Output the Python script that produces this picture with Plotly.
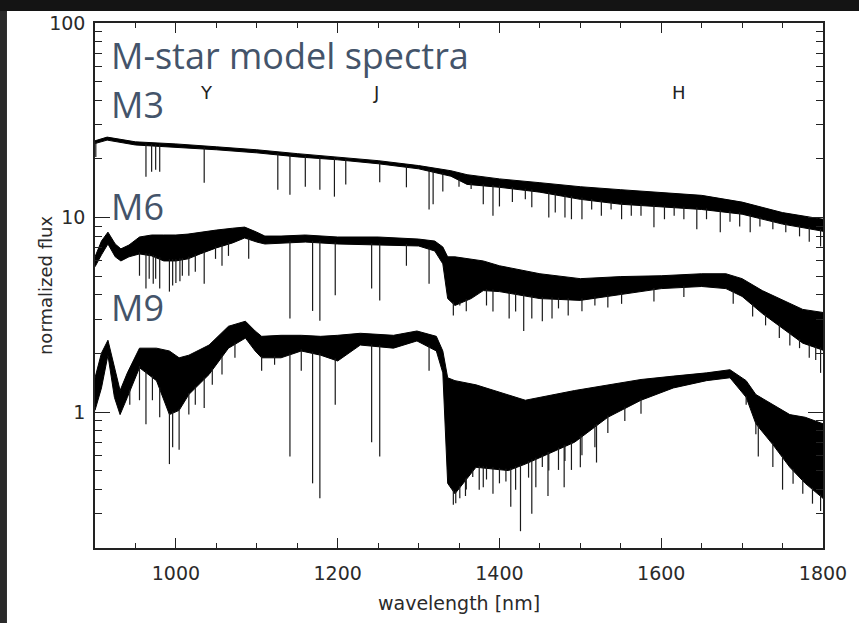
import numpy as np
import plotly.graph_objects as go

# ---------------- data ----------------
# M3 spectrum: wavelength (nm), upper / lower edge of the dense trace (normalized flux)
m3_wl = [900, 915, 950, 1000, 1050, 1100, 1150, 1200, 1250, 1300, 1340, 1360, 1400,
         1450, 1500, 1550, 1600, 1650, 1700, 1750, 1800]
m3_upper = [24.8, 25.9, 24.5, 23.9, 23.1, 22.3, 21.3, 20.5, 19.6, 18.5, 17.4, 16.6, 15.8,
            15.1, 14.4, 13.9, 13.5, 13.0, 12.0, 10.6, 9.8]
m3_lower = [24.0, 25.0, 23.6, 23.0, 22.3, 21.5, 20.5, 19.8, 18.9, 17.8, 16.3, 14.8, 14.3,
            13.5, 12.4, 11.7, 11.3, 11.0, 10.4, 9.25, 8.5]
m3_line_wl = [901, 963, 970, 975, 980, 1035, 1126, 1141, 1160, 1178, 1196, 1210, 1252,
              1285, 1313, 1318, 1330, 1350, 1365, 1380, 1392, 1400, 1416, 1432, 1440,
              1461, 1469, 1481, 1489, 1502, 1514, 1526, 1538, 1551, 1563, 1575, 1591,
              1604, 1616, 1628, 1644, 1656, 1673, 1685, 1697, 1710, 1722, 1738, 1754,
              1771, 1783, 1797]
m3_line_min = [20.5, 16.2, 17.2, 17.6, 17.2, 15.1, 13.9, 13.1, 14.4, 13.9, 12.8, 14.8, 15.2,
               14.3, 11.0, 11.7, 13.6, 14.4, 14.0, 11.7, 10.2, 11.4, 12.0, 12.4, 11.3,
               10.0, 10.6, 10.0, 9.8, 9.8, 11.0, 10.2, 11.0, 9.8, 10.2, 10.2, 8.9,
               9.8, 10.2, 9.8, 8.7, 9.8, 8.4, 9.5, 9.0, 8.4, 9.0, 8.7, 8.4,
               8.0, 7.5, 7.1]

# M6 spectrum
m6_wl = [900, 908, 916, 925, 932, 942, 955, 970, 985, 1000, 1015, 1030, 1050, 1070, 1085,
         1100, 1110, 1130, 1160, 1200, 1250, 1300, 1320, 1330, 1336, 1345, 1365, 1380,
         1400, 1450, 1500, 1550, 1600, 1650, 1680, 1700, 1725, 1750, 1775, 1800]
m6_upper = [6.28, 7.57, 8.41, 7.31, 6.90, 7.22, 7.94, 8.13, 8.13, 8.13, 8.22, 8.41, 8.62,
            8.81, 8.93, 8.41, 8.03, 8.03, 8.13, 7.94, 7.94, 7.75, 7.57, 7.06, 6.28, 6.28,
            6.13, 5.98, 5.65, 5.14, 4.85, 4.97, 5.02, 5.14, 5.14, 4.85, 4.21, 3.75, 3.37, 3.25]
m6_lower = [5.58, 6.43, 7.31, 6.28, 5.98, 6.28, 6.50, 6.35, 5.98, 5.98, 6.13, 6.50, 6.98,
            7.40, 7.85, 7.48, 7.31, 7.40, 7.48, 7.31, 7.22, 7.14, 6.73, 5.78, 3.83, 3.53,
            3.83, 4.21, 4.16, 3.83, 3.75, 4.02, 4.31, 4.42, 4.31, 3.93, 3.21, 2.70, 2.26, 2.08]
m6_line_wl = [955, 963, 967, 972, 975, 980, 992, 996, 1000, 1005, 1008, 1016, 1024, 1035,
              1049, 1057, 1065, 1090, 1141, 1169, 1178, 1197, 1242, 1252, 1285, 1313,
              1343, 1351, 1359, 1384, 1392, 1412, 1420, 1430, 1440, 1453, 1465, 1473,
              1485, 1502, 1518, 1534, 1551, 1591, 1628, 1689, 1713, 1729, 1746, 1759,
              1771, 1783, 1791, 1797]
m6_line_min = [5.02, 4.31, 4.85, 4.57, 4.85, 4.31, 4.16, 4.47, 4.6, 4.7, 5.02, 5.02, 5.26,
               4.57, 6.13, 5.65, 6.35, 6.13, 3.03, 3.31, 2.95, 3.98, 4.31, 3.75, 5.65, 4.57,
               3.14, 3.53, 3.3, 3.53, 3.29, 3.03, 3.29, 2.61, 3.03, 2.93, 3.03, 3.41,
               3.14, 3.3, 3.53, 3.45, 3.6, 3.7, 3.9, 3.6, 3.1, 2.79, 2.40, 2.2,
               2.13, 1.9, 1.85, 1.59]

# M9 spectrum
m9_wl = [900, 908, 916, 924, 931, 940, 955, 976, 992, 1004, 1016, 1041, 1065, 1086, 1098,
         1106, 1130, 1155, 1179, 1200, 1228, 1269, 1298, 1322, 1330, 1336, 1345, 1371,
         1411, 1432, 1493, 1534, 1575, 1615, 1656, 1685, 1705, 1717, 1738, 1759, 1778, 1800]
m9_upper = [1.50, 2.01, 2.34, 1.69, 1.29, 1.59, 2.13, 2.13, 2.06, 1.90, 1.96, 2.21, 2.76,
            2.93, 2.61, 2.45, 2.48, 2.48, 2.45, 2.48, 2.54, 2.48, 2.61, 2.45, 2.06, 1.50,
            1.45, 1.38, 1.23, 1.15, 1.29, 1.38, 1.47, 1.53, 1.59, 1.65, 1.45, 1.23, 1.09,
            0.97, 0.94, 0.87]
m9_lower = [1.02, 1.33, 1.96, 1.19, 0.97, 1.19, 1.69, 1.45, 0.97, 1.02, 1.23, 1.56, 2.13,
            2.40, 2.06, 1.90, 1.90, 2.06, 1.96, 1.83, 2.21, 2.13, 2.32, 2.06, 1.59, 0.43,
            0.38, 0.52, 0.50, 0.54, 0.70, 0.94, 1.15, 1.33, 1.45, 1.50, 1.19, 0.87, 0.68,
            0.52, 0.43, 0.36]
m9_line_wl = [943, 955, 963, 971, 980, 992, 996, 1004, 1016, 1024, 1035, 1045, 1057, 1073,
              1106, 1122, 1141, 1155, 1169, 1178, 1197, 1242, 1252, 1313, 1343, 1346,
              1351, 1358, 1359, 1367, 1375, 1380, 1384, 1392, 1400, 1408, 1414, 1420,
              1426, 1436, 1440, 1445, 1453, 1460, 1461, 1473, 1480, 1481, 1489, 1500,
              1502, 1518, 1520, 1534, 1555, 1575, 1705, 1717, 1720, 1738, 1750, 1763,
              1775, 1787, 1797]
m9_line_min = [1.09, 1.15, 0.865, 1.15, 0.94, 0.54, 0.66, 0.64, 0.97, 1.09, 1.05, 1.38,
               1.56, 1.90, 1.63, 1.75, 0.59, 1.63, 0.43, 0.36, 1.09, 0.70, 0.59, 1.63,
               0.334, 0.34, 0.36, 0.37, 0.40, 0.464, 0.399, 0.41, 0.45, 0.38, 0.43, 0.44,
               0.326, 0.399, 0.244, 0.46, 0.30, 0.41, 0.522, 0.37, 0.5, 0.504, 0.41,
               0.56, 0.504, 0.52, 0.6, 0.66, 0.55, 0.78, 0.9, 0.98, 1.09, 0.769, 0.59,
               0.522, 0.399, 0.428, 0.38, 0.338, 0.31]

star_names = ["M3", "M6", "M9"]
band_names = ["Y", "J", "H"]
band_centers = [1038, 1248, 1622]
band_label_flux = 44

x_ticks = [1000, 1200, 1400, 1600, 1800]
x_minor = [950, 1050, 1100, 1150, 1250, 1300, 1350, 1450, 1500, 1550, 1650, 1700, 1750]
y_ticks = [1, 10, 100]
y_tick_text = ["1", "10", "100"]
y_minor = [0.2, 0.3, 0.4, 0.5, 0.6, 0.7, 0.8, 0.9, 2, 3, 4, 5, 6, 7, 8, 9,
           20, 30, 40, 50, 60, 70, 80, 90]

# ---------------- figure ----------------
fig = go.Figure()


def add_spectrum(wl, upper, lower, line_wl, line_min):
    fig.add_trace(go.Scatter(
        x=list(wl) + list(wl[::-1]), y=list(upper) + list(lower[::-1]),
        mode="lines", fill="toself", fillcolor="black",
        line=dict(color="black", width=1), hoverinfo="skip", showlegend=False))
    start = 10 ** np.interp(line_wl, wl, np.log10(lower))
    xs, ys = [], []
    for lw, s, m in zip(line_wl, start, line_min):
        xs += [lw, lw, None]
        ys += [s * 1.02, m, None]
    fig.add_trace(go.Scatter(x=xs, y=ys, mode="lines",
                             line=dict(color="#1a1a1a", width=1.2),
                             hoverinfo="skip", showlegend=False))


add_spectrum(m3_wl, m3_upper, m3_lower, m3_line_wl, m3_line_min)
add_spectrum(m6_wl, m6_upper, m6_lower, m6_line_wl, m6_line_min)
add_spectrum(m9_wl, m9_upper, m9_lower, m9_line_wl, m9_line_min)

W, H = 859, 623
L, R, T, B = 95, 28, 22, 72
pw, ph = W - L - R, H - T - B

txt_color = "#2a2a2a"
tick_font = dict(family="DejaVu Sans", size=19, color=txt_color)
axis_common = dict(showline=True, linecolor="#222", linewidth=1.5, mirror="ticks",
                   ticks="inside", tickcolor="#222", tickwidth=1.3, showgrid=False,
                   zeroline=False, tickfont=tick_font)

fig.update_layout(
    width=W, height=H,
    margin=dict(l=L, r=R, t=T, b=B, pad=0),
    paper_bgcolor="white", plot_bgcolor="white",
    xaxis=dict(range=[900, 1800], tickvals=x_ticks, ticklen=10,
               minor=dict(tickvals=x_minor, ticks="inside", ticklen=5,
                          tickcolor="#222", tickwidth=1.2),
               title=dict(text="wavelength [nm]",
                          font=dict(family="DejaVu Sans", size=19, color=txt_color),
                          standoff=14),
               ticklabelstandoff=7,
               **axis_common),
    yaxis=dict(type="log", range=[np.log10(0.2), 2], tickvals=y_ticks,
               ticktext=y_tick_text, ticklen=15,
               minor=dict(tickvals=y_minor, ticks="inside", ticklen=7,
                          tickcolor="#222", tickwidth=1.2),
               ticklabelstandoff=4,
               **axis_common),
)

# dark frame strips along the top and left edges of the image
fig.add_shape(type="rect", xref="paper", yref="paper",
              x0=-(L + 30) / pw, x1=-(L - 6) / pw, y0=-(B + 30) / ph, y1=1 + (T + 30) / ph,
              fillcolor="#2a2a2a", line_width=0, layer="above")
fig.add_shape(type="rect", xref="paper", yref="paper",
              x0=-(L + 30) / pw, x1=(W - L + 30) / pw, y0=1 + (T - 10) / ph,
              y1=1 + (T + 30) / ph,
              fillcolor="#141414", line_width=0, layer="above")

# y-axis title
fig.add_annotation(text="normalized flux", xref="paper", yref="paper",
                   x=(45 - L) / pw, y=0.5, xanchor="center", yanchor="middle",
                   textangle=-90, showarrow=False,
                   font=dict(family="DejaVu Sans", size=18, color=txt_color))

label_color = "#44546A"
fig.add_annotation(text="M-star model spectra", xref="paper", yref="paper",
                   x=(109 - L) / pw, y=1 - (55 - T) / ph, xanchor="left", yanchor="middle",
                   showarrow=False, font=dict(family="Open Sans", size=36, color=label_color))
for name, yp in zip(star_names, [104, 207, 309]):
    fig.add_annotation(text=name, xref="paper", yref="paper",
                       x=(109 - L) / pw, y=1 - (yp - T) / ph, xanchor="left",
                       yanchor="middle", showarrow=False,
                       font=dict(family="Open Sans", size=36, color=label_color))

for b, c in zip(band_names, band_centers):
    fig.add_annotation(text=b, x=c, y=np.log10(band_label_flux), xref="x", yref="y",
                       showarrow=False,
                       font=dict(family="DejaVu Sans", size=18, color="#222"))

fig.write_html("out.html")
